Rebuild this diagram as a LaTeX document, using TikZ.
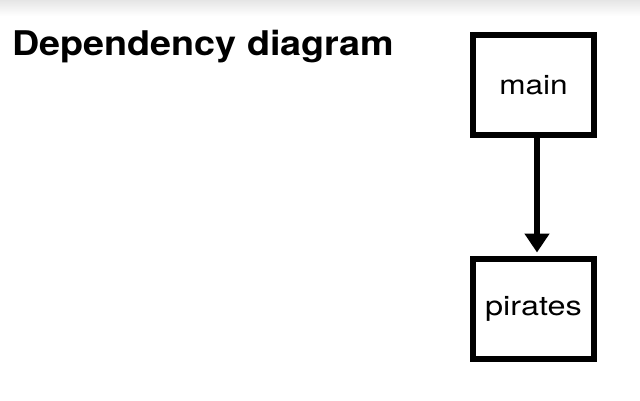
\documentclass[tikz,border=0pt]{standalone}
\usepackage{fontspec}
\setmainfont{TeX Gyre Heros}
\usetikzlibrary{arrows.meta}
\tikzset{
  modbox/.style={draw=black, line width=6pt, minimum width=121pt, minimum height=100pt, inner sep=0pt, font=\fontsize{27}{32}\selectfont},
  deparrow/.style={line width=6pt, -{Triangle[width=24pt,length=19pt]}}
}
\newcommand{\widen}[2]{\scalebox{#1}[1]{#2}}
\begin{document}
\begin{tikzpicture}[x=1pt,y=-1pt]
\useasboundingbox (0,0) rectangle (640,400);
\fill[white] (0,0) rectangle (640,400);
\shade[top color=black!10, bottom color=white] (0,0) rectangle (640,16);
\node[anchor=base west, inner sep=0pt, font=\bfseries\fontsize{34}{40}\selectfont] (title) at (12,55) {\widen{1.11}{Dependency diagram}};
\node[modbox] (main) at (533.5,85) {\widen{1.17}{main}};
\node[modbox] (pirates) at (533.5,308.5) {\widen{1.2}{pirates}};
\draw[deparrow] ([xshift=3.5pt]main.south) -- ([xshift=3.5pt,yshift=3pt]pirates.north);
\end{tikzpicture}
\end{document}
